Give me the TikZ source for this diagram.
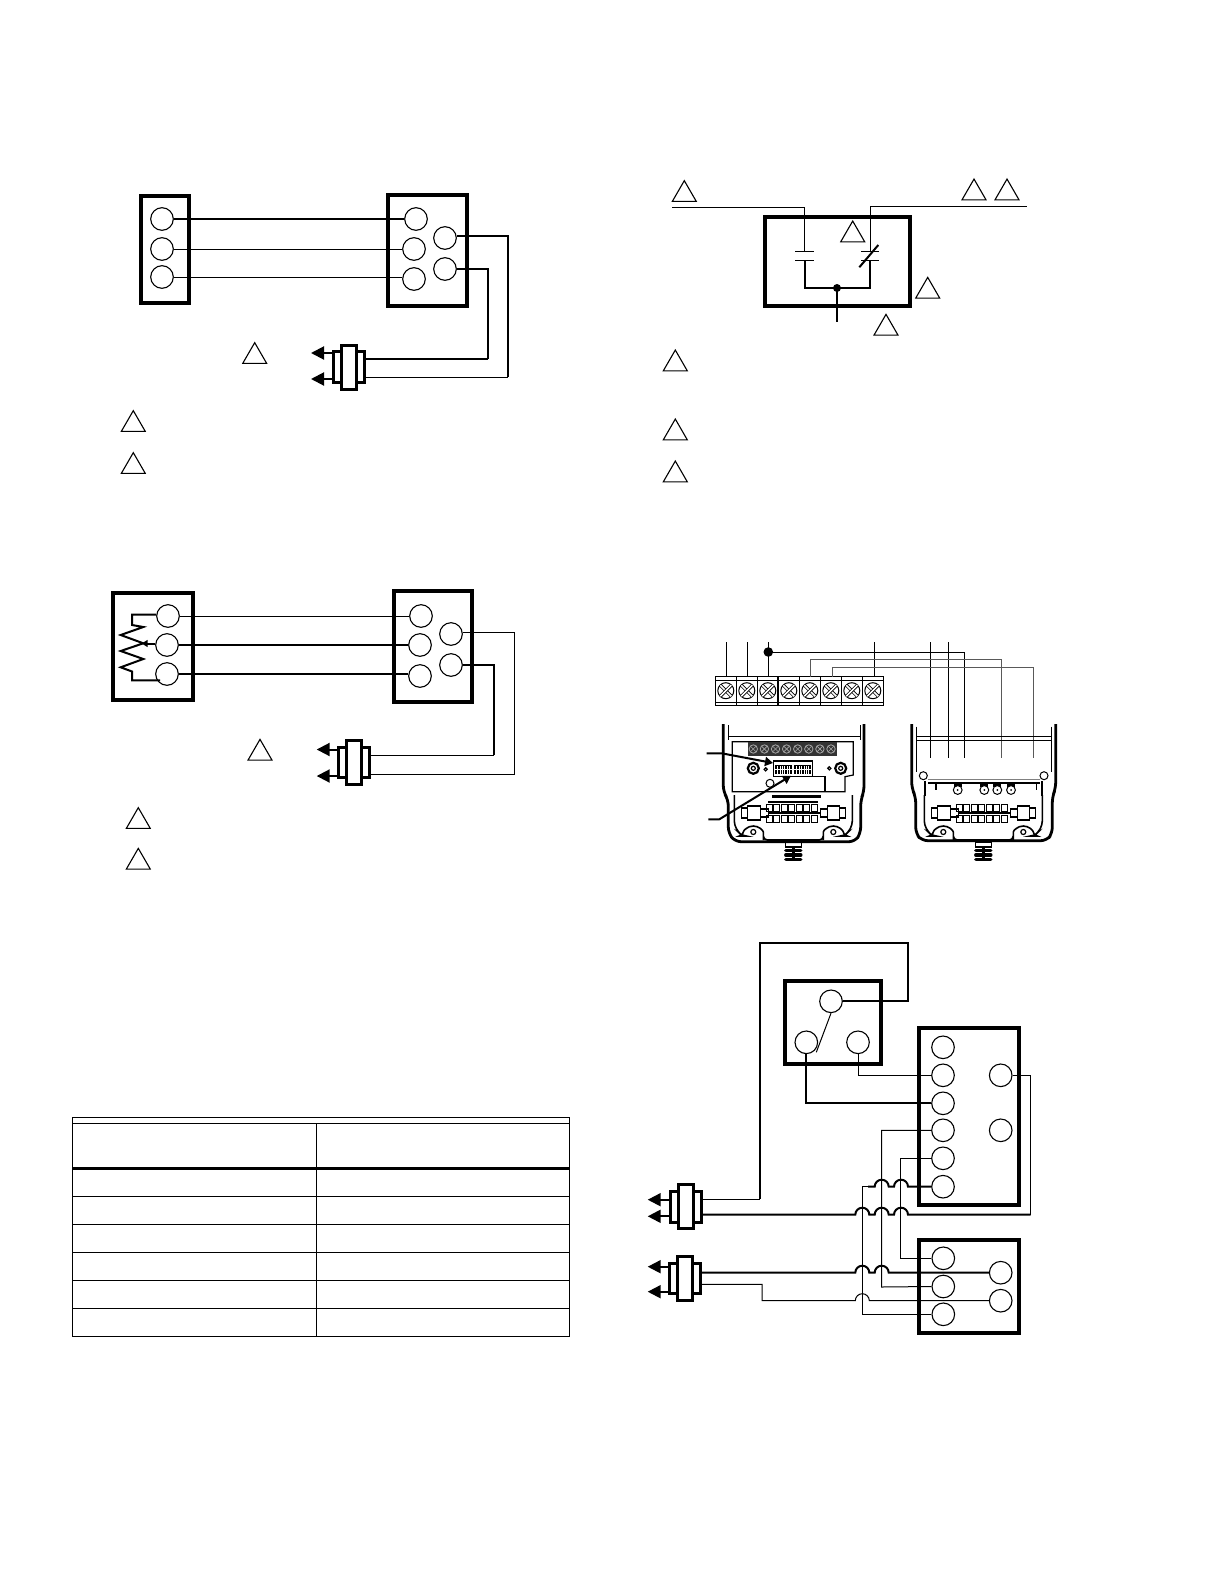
\documentclass[tikz,border=0pt]{standalone}
\usepackage{xcolor}
\usepackage{tikz}
\usetikzlibrary{arrows.meta, positioning, calc, shapes.geometric}

\tikzset{
	box/.style={draw, rectangle, line width=1.85pt, inner sep=0pt},
	term/.style={draw, circle, line width=.55pt, minimum size=11.3pt, inner sep=0pt},
	tri/.style={draw, regular polygon, regular polygon sides=3, line width=.55pt, minimum size=13.85pt, inner sep=0pt, outer sep=0pt},
	valveo/.style={draw, rectangle, line width=1.5pt, minimum size=15.2pt, inner sep=0pt},
	valvei/.style={draw, rectangle, fill=white, line width=1.5pt, minimum width=7.6pt, minimum height=22pt, inner sep=0pt},
	wire/.style={line width=.5pt},
	wirem/.style={line width=.9pt},
	wireb/.style={line width=1pt},
	tipwire/.style={line width=1pt, -{Triangle[length=6.5pt,width=6.5pt]}},
	hop/.style={start angle=180, end angle=0, radius=3.5pt},
	devwall/.style={line width=1.4pt, rounded corners=3pt},
	thin line/.style={line width=.6pt},
	devbase/.pic={
		% connector bar
		\draw[thin line] (-52,-5) rectangle (-46,5);
		\draw[thin line] (-46,-7) rectangle (-33,7);
		\draw[thin line] (-33,-4) rectangle (-25,4);
		\draw[thin line] (27,-4) rectangle (34,4);
		\draw[thin line] (34,-7) rectangle (46,7);
		\draw[thin line] (46,-5) rectangle (52,5);
		\foreach \k in {0,...,6}{
			\draw[line width=.4pt] (-27+\k*7.5,-9) rectangle (-21+\k*7.5,-2);
			\draw[line width=.4pt] (-27+\k*7.5,2) rectangle (-21+\k*7.5,9);
		}
		\draw[line width=1.1pt] (-25,0) -- (27,0);
		% rim with the two bosses
		\draw[line width=.8pt, rounded corners=2pt] (-59,-18) -- (-59,12) -- (-55,19) -- (-51,23)
			-- (-50,23) arc[start angle=180, end angle=0, radius=5pt] -- (-30,27) -- (30,27) -- (30,23)
			arc[start angle=180, end angle=0, radius=5pt] -- (51,23) -- (55,19) -- (59,12) -- (59,-18);
		\draw[thin line] (-40,19) circle (2.5);
		\draw[thin line] (40,19) circle (2.5);
		% conduit
		\draw[thin line] (-8,29) rectangle (8,34);
		\foreach \k in {37.5,42,46.5}{
			\draw[line width=1.7pt, line cap=round] (-7.5,\k) -- (7.5,\k);
		}
		\draw[line width=1.8pt] (0,34) -- (0,48);
	}
}

\begin{document}
\begin{tikzpicture}[x=.5pt, y=-.5pt]
	\useasboundingbox (0,0) rectangle (1224,1584);

	% --- top left wiring
	\draw[box] (141,196) rectangle (189,303);
	\draw[box] (388,195) rectangle (467,306);
	\node[term] (lA1) at (162,219) {};
	\node[term] (lA2) at (162,249) {};
	\node[term] (lA3) at (162,277) {};
	\node[term] (rA1) at (416,219) {};
	\node[term] (rA2) at (414,249) {};
	\node[term] (rA3) at (414,279) {};
	\node[term] (rA4) at (445,238) {};
	\node[term] (rA5) at (445,269) {};
	\node[valveo] (vAo) at (349,367) {};
	\node[valvei] (vAi) at (349,367) {};
	\coordinate (aA1) at (508,377);
	\coordinate (aA2) at (488,358.5);
	\coordinate (tA1) at (311,353);
	\coordinate (tA2) at (311,379);
	\draw[wireb] (lA1.east) -- (rA1.west);
	\draw[wire] (lA2.east) -- (rA2.west);
	\draw[wire] (lA3.east) -- (lA3.east -| rA3.west);
	\draw[wireb] (rA4.east) ++(0,-2) -| (aA1);
	\draw[wire] (aA1) -- (aA1 -| vAo.east);
	\draw[wirem] (rA5.east) -| (aA2);
	\draw[wireb] (aA2) -- (aA2 -| vAo.east);
	\draw[tipwire] (vAo.west |- tA1) -- (tA1);
	\draw[tipwire] (vAo.west |- tA2) -- (tA2);
	\node[tri] (nA1) at (254.7,356.5) {};
	\node[tri] (nA2) at (133.3,424.5) {};
	\node[tri] (nA3) at (133.3,466.5) {};

	% --- middle left wiring, with the potentiometer
	\draw[box] (113,593) rectangle (193,700);
	\draw[box] (394,591) rectangle (472,702);
	\node[term] (lB1) at (168,616) {};
	\node[term] (lB2) at (167,645) {};
	\node[term] (lB3) at (167,674) {};
	\node[term] (rB1) at (421,616) {};
	\node[term] (rB2) at (420,645) {};
	\node[term] (rB3) at (420,676) {};
	\node[term] (rB4) at (451,634) {};
	\node[term] (rB5) at (451,665) {};
	\node[valveo] (vBo) at (354,762.7) {};
	\node[valvei] (vBi) at (354,762.7) {};
	\coordinate (aB1) at (514.5,774.3);
	\coordinate (aB2) at (494,755.3);
	\coordinate (tB1) at (316.7,749.5);
	\coordinate (tB2) at (316.7,776);
	\draw[wire] (lB1.east) -- (rB1.west);
	\draw[wireb] (lB2.east) -- (rB2.west);
	\draw[wireb] (lB3.east) -- (lB3.east -| rB3.west);
	\draw[wire] (rB4.east) ++(0,-2) -| (aB1) -- (aB1 -| vBo.east);
	\draw[wireb] (rB5.east) -| (aB2);
	\draw[wire] (aB2) -- (aB2 -| vBo.east);
	\draw[tipwire] (vBo.west |- tB1) -- (tB1);
	\draw[tipwire] (vBo.west |- tB2) -- (tB2);
	\draw[wireb] (lB1.west) ++(0,-1.5) -- (132,614.5) -- (132,625) -- (143.3,627) -- (120.7,635) -- (143.3,643.3)
		-- (120.7,651) -- (143.3,659) -- (120.7,667.3) -- (132,671.5) -- (132,680.3) -- (160,680.3);
	\draw[wireb, -{Triangle[length=3pt,width=3.5pt]}] (lB2.west) ++(0,-1.5) -- (141.7,643.5);
	\node[tri] (nB1) at (260,753.2) {};
	\node[tri] (nB2) at (138.3,821.5) {};
	\node[tri] (nB3) at (138.3,862.2) {};

	% --- table
	\draw[wire] (72.3,1117.7) rectangle (569.7,1336);
	\draw[wire] (72.3,1123.5) -- (569.7,1123.5);
	\draw[wire] (316.7,1123.5) -- (316.7,1336);
	\draw[line width=1.5pt] (72.3,1168) -- (569.7,1168);
	\foreach \y in {1196.3,1224.3,1252.3,1280.3,1308.3}{
		\draw[wire] (72.3,\y) -- (569.7,\y);
	}

	% --- top right contacts
	\draw[box] (765,217) rectangle (910,305.7);
	\coordinate (cF1) at (672,207.3);
	\coordinate (cF2) at (804.7,251);
	\coordinate (cF3) at (804.7,260);
	\coordinate (cG1) at (1026.7,206.3);
	\coordinate (cG2) at (870,251);
	\coordinate (cG3) at (870,260);
	\coordinate (cJ) at (837,288);
	\coordinate (cK) at (837,321.7);
	\draw[wire] (cF1) -| (cF2);
	\draw[wireb] (cF3) |- (cJ);
	\draw[wireb] (cG3) |- (cJ);
	\draw[wire] (cG1) -| (cG2);
	\draw[wire] ($(cF2)+(-9.5,0)$) -- ($(cF2)+(9.5,0)$);
	\draw[wire] ($(cF3)+(-9.5,0)$) -- ($(cF3)+(9.5,0)$);
	\draw[wire] ($(cG2)+(-9,0)$) -- ($(cG2)+(9,0)$);
	\draw[wire] ($(cG3)+(-9,0)$) -- ($(cG3)+(9,0)$);
	\draw[wireb] (859.3,267.3) -- (878.3,245);
	\draw[wireb] (cJ) -- (cK);
	\fill (cJ) circle (2pt);
	\node[tri] (nC1) at (684.3,194.5) {};
	\node[tri] (nC2) at (974,192.9) {};
	\node[tri] (nC3) at (1007,192.9) {};
	\node[tri] (nC4) at (852.7,234.9) {};
	\node[tri] (nC5) at (927.7,291.2) {};
	\node[tri] (nC6) at (886,328.2) {};
	\node[tri] (nC7) at (675.3,363.9) {};
	\node[tri] (nC8) at (675.3,432.9) {};
	\node[tri] (nC9) at (675.3,474.9) {};

	% --- terminal strip
	\draw[wire] (715.3,676.7) rectangle (883.3,705.3);
	\draw[wire] (715.3,680) -- (883.3,680);
	\draw[wire] (715.3,702) -- (883.3,702);
	\foreach \k in {0,...,7}{
		\draw[wire] (715.3+\k*21,676.7) -- (715.3+\k*21,705.3);
		\draw[wire] (725.8+\k*21,690.7) circle (8);
		\draw[line width=.4pt, double=white, double distance=.8pt] (720.3+\k*21,685.2) -- (731.3+\k*21,696.2);
		\draw[line width=.4pt, double=white, double distance=.8pt] (720.3+\k*21,696.2) -- (731.3+\k*21,685.2);
	}
	\draw[wireb] (778.3,676.7) -- (778.3,705.3);

	% --- wires from the strip to the right hand base
	\coordinate (sE) at (768.3,652);
	\draw[wire] (726.3,642) -- (726.3,676.7);
	\draw[wire] (747.3,642) -- (747.3,676.7);
	\draw[wire] (768.3,642) -- (768.3,676.7);
	\draw[wire] (874.3,642) -- (874.3,676.7);
	\draw[wire] (930.7,642) -- (930.7,757.7);
	\draw[wire] (948.7,642) -- (948.7,757.7);
	\draw[wire] (sE) -| (964.3,757.7);
	\fill (sE) circle (2.4pt);
	\draw[wire, black!65] (810.7,676.7) |- (1001,659.3) -- (1001,757.7);
	\draw[wire, black!65] (832.3,676.7) |- (1033.3,667) -- (1033.3,757.7);

	% --- left base
	\draw[devwall] (723.3,724) -- (723.3,791.7) -- (728.3,800) -- (728.3,833) -- (735,841.7) -- (855,841.7) -- (860.7,833) -- (860.7,800) -- (864,791.7) -- (864,724);
	\draw[wire] (728.3,725) -- (728.3,740);
	\draw[wire] (860,725) -- (860,740);
	\draw[wire] (728.3,736.7) -- (860,736.7);
	\draw[thin line] (732.3,741.7) -- (853.3,741.7) -- (853.3,775) -- (845,776.7) -- (845,791.7) -- (732.3,791.7) -- cycle;
	\fill[black!80] (747.7,742.3) rectangle (836.7,755.7);
	\foreach \k in {0,...,7}{
		\draw[black!35, line width=.4pt] (753.3+\k*11.1,749) circle (4.2);
		\draw[black!35, line width=.3pt] (750.5+\k*11.1,746.2) -- (756.1+\k*11.1,751.8);
		\draw[black!35, line width=.3pt] (750.5+\k*11.1,751.8) -- (756.1+\k*11.1,746.2);
	}
	\draw[thin line] (773.3,776.7) -- (773.3,761) -- (812.3,761) -- (812.3,776.7) -- (825,776.7) -- (825,791.7);
	\draw[thin line] (773.3,776.7) -- (812.3,776.7);
	\fill (775,765) rectangle (792.3,774.3);
	\fill (794.3,765) rectangle (811,774.3);
	\foreach \k in {0,...,6}{
		\draw[white, line width=.3pt] (777.5+\k*2.4,766) -- (777.5+\k*2.4,773.5);
		\draw[white, line width=.3pt] (796.7+\k*2.4,766) -- (796.7+\k*2.4,773.5);
	}
	\draw[white, line width=.3pt] (775,769.5) -- (811,769.5);
	\draw[line width=1.1pt] (753.3,768.3) circle (5.5);
	\draw[line width=1.1pt] (840.7,768.3) circle (5.5);
	\draw[thin line] (753.3,768.3) circle (2);
	\draw[thin line] (840.7,768.3) circle (2);
	\draw[thin line] (765.7,769.3) circle (1.6);
	\draw[thin line] (829.3,768.3) circle (1.6);
	\draw[wire] (770,783.3) circle (4);
	\pic at (793.3,813) {devbase};
	\fill[black] (772,794.5) rectangle (821,797.5);
	\fill[black] (768,800.5) rectangle (818,803);
	\coordinate (pA) at (706.7,753.3);
	\coordinate (pB) at (708.3,819.3);
	\draw[wireb, -{Triangle[length=4pt,width=4.5pt]}] (pA) -- (721.7,753.3) -- (773,763);
	\draw[wireb, -{Triangle[length=4pt,width=4.5pt]}] (pB) -- (719.3,819.3) -- (791,775.7);

	% --- right base
	\draw[devwall] (911.7,724) -- (911.7,788.3) -- (915.7,796.7) -- (915.7,833.3) -- (921.7,840.7) -- (1046.7,840.7) -- (1052.3,833.3) -- (1052.3,796.7) -- (1055.7,788.3) -- (1055.7,724);
	\draw[wire] (916.7,726.7) -- (916.7,771.5);
	\draw[wire] (1051.7,726.7) -- (1051.7,771.5);
	\draw[wire] (916.7,736.7) -- (1051.7,736.7);
	\draw[wire] (916.7,740) -- (1051.7,740);
	\draw[wire] (923.3,775.7) circle (4);
	\draw[wire] (1044,775.7) circle (4);
	\draw[wire, black!50] (928.3,779.3) -- (1040,779.3);
	\draw[wireb] (928.3,782.7) -- (1040,782.7);
	\draw[wire] (935,782.7) rectangle (936.5,789);
	\draw[wire] (1036,782.7) -- (1036,790);
	\foreach \k in {957.7,984.3,997.3,1011}{
		\fill (\k-4,782.7) rectangle (\k+4,787);
		\draw[wire, fill=white] (\k,790) circle (4.4);
		\fill (\k,790) circle (1);
	}
	\draw[thin line] (925,781) -- (925,796);
	\draw[thin line] (1042,781) -- (1042,796);
	\pic at (983.3,813) {devbase};

	% --- bottom right wiring
	\draw[box] (785,980.7) rectangle (881,1064);
	\draw[box] (919,1028) rectangle (1019,1204.7);
	\draw[box] (919,1240) rectangle (1019,1333);
	\node[term] (sA) at (831,1001.3) {};
	\node[term] (sB) at (806.3,1042.3) {};
	\node[term] (sC) at (858,1042.3) {};
	\node[term] (mA) at (943,1047.3) {};
	\node[term] (mB) at (943,1075.3) {};
	\node[term] (mC) at (943,1103.3) {};
	\node[term] (mD) at (943,1130.3) {};
	\node[term] (mE) at (943,1158.3) {};
	\node[term] (mF) at (943,1186.7) {};
	\node[term] (mG) at (1000.7,1075.3) {};
	\node[term] (mH) at (1000.7,1130.3) {};
	\node[term] (kA) at (943.3,1258.3) {};
	\node[term] (kB) at (943.3,1286.5) {};
	\node[term] (kC) at (943.3,1314.3) {};
	\node[term] (kD) at (1000.7,1272.7) {};
	\node[term] (kE) at (1000.7,1300.7) {};
	\node[valveo] (vCo) at (686,1207) {};
	\node[valvei] (vCi) at (686,1206) {};
	\node[valveo] (vDo) at (685,1278.5) {};
	\node[valvei] (vDi) at (685,1278) {};
	\coordinate (tC1) at (647.7,1199.7);
	\coordinate (tC2) at (647.7,1216.3);
	\coordinate (tD1) at (647.7,1266.7);
	\coordinate (tD2) at (647.7,1291.7);
	\draw[tipwire] (vCo.west |- tC1) -- (tC1);
	\draw[tipwire] (vCo.west |- tC2) -- (tC2);
	\draw[tipwire] (vDo.west |- tD1) -- (tD1);
	\draw[tipwire] (vDo.west |- tD2) -- (tD2);
	\coordinate (eA) at (759.7,1199.3);
	\coordinate (eB) at (759.7,942.7);
	\coordinate (eC) at (907.7,942.7);
	\coordinate (eD) at (1030.7,1214.7);
	\coordinate (eE) at (762,1284.3);
	\coordinate (eF) at (762,1300.7);
	\draw[wire] (vCo.east |- eA) -- (eA);
	\draw[wirem] (eA) -- (eB) -- (eC) |- (sA.east);
	\draw[wire] (sA.south) -- (816.3,1052.3);
	\draw[wire] (sC.south) |- (mB.west);
	\draw[wirem] (sB.south) |- (mC.west);
	\draw[wire] (mG.east) -| (eD);
	\draw[wireb] (vCo.east |- eD) -- (855.3,1214.7) arc[hop] -- (874.7,1214.7) arc[hop] -- (894,1214.7) arc[hop] -- (eD);
	\draw[wire] (mD.west) -| (881.7,1287) -- (kB.west);
	\draw[wire] (mE.west) -| (900.7,1258.3) -- (kA.west);
	\draw[wireb] (mF.west) -- (908,1186.7) arc[start angle=0, end angle=180, radius=3.5pt] -- (888.7,1186.7) arc[start angle=0, end angle=180, radius=3.5pt] -- (868,1186.7);
	\draw[wire] (868,1186.7) -- (862.3,1186.7) |- (kC.west);
	\draw[wireb] (vDo.east |- kD.west) -- (855.3,1272.7) arc[hop] -- (874.7,1272.7) arc[hop] -- (kD.west);
	\draw[wire] (vDo.east |- eE) -- (eE) -- (eF) -- (855.3,1300.7) arc[hop] -- (kE.west);
\end{tikzpicture}
\end{document}
